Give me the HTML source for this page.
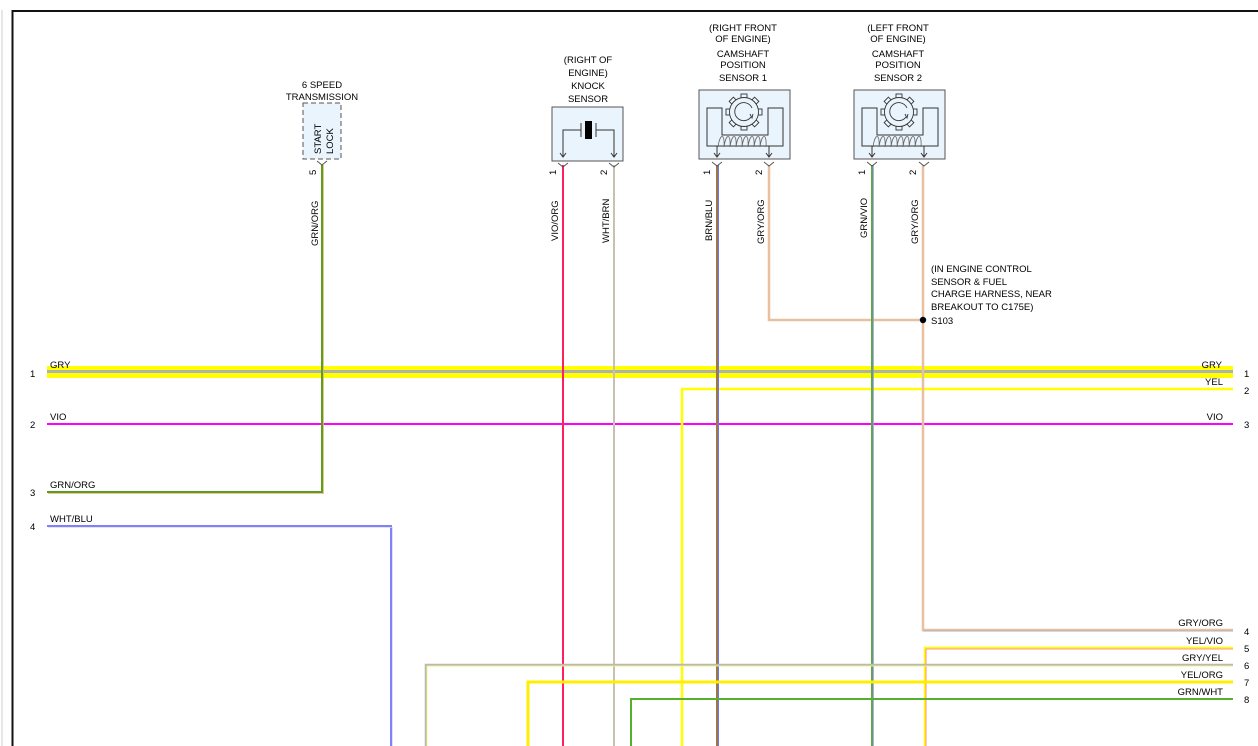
<!DOCTYPE html>
<html><head><meta charset="utf-8"><style>
html,body{margin:0;padding:0;background:#fff;}
svg{display:block;font-family:"Liberation Sans",Arial,sans-serif;}
</style></head><body>
<svg width="1258" height="746" viewBox="0 0 1258 746" xmlns="http://www.w3.org/2000/svg" font-size="10" fill="#000">
<rect width="1258" height="746" fill="#fff"/>
<line x1="2" y1="10" x2="2" y2="746" stroke="#ccc" stroke-width="1"/>
<path d="M12.5 746 V11 H1258" fill="none" stroke="#111" stroke-width="2"/>

<rect x="47" y="366" width="1186" height="12" fill="#ffff00"/>
<rect x="47" y="370" width="1186" height="3" fill="#b0b0b0"/>
<line x1="47" y1="424" x2="1233" y2="424" stroke="#ff00ff" stroke-width="2"/>
<path d="M682 746 V389 H1233" fill="none" stroke="#ffff00" stroke-width="2.5"/>
<path d="M47 492 H322 V165" fill="none" stroke="#55a020" stroke-width="2"/>
<path d="M48 493.5 H323.5 V165" fill="none" stroke="#f0b070" stroke-width="0.8"/>
<path d="M47 526 H391 V746" fill="none" stroke="#8080ff" stroke-width="2"/>
<path d="M48 527.5 H392.5 V746" fill="none" stroke="#ddd" stroke-width="0.8"/>
<line x1="563" y1="165" x2="563" y2="746" stroke="#ff2060" stroke-width="2"/>
<line x1="614" y1="165" x2="614" y2="746" stroke="#c8c0b0" stroke-width="2"/>
<line x1="717" y1="165" x2="717" y2="746" stroke="#9a7a40" stroke-width="2"/>
<line x1="718.5" y1="165" x2="718.5" y2="746" stroke="#7070ff" stroke-width="1"/>
<path d="M769 165 V320 H923" fill="none" stroke="#e8c0a0" stroke-width="2.5"/>
<line x1="872" y1="165" x2="872" y2="746" stroke="#50b040" stroke-width="2"/>
<line x1="873.5" y1="165" x2="873.5" y2="746" stroke="#c080ff" stroke-width="0.8"/>
<path d="M923 165 V630 H1233" fill="none" stroke="#e8c0a0" stroke-width="2.5"/>
<line x1="923" y1="631" x2="1233" y2="631" stroke="#b0b0b0" stroke-width="1"/>
<circle cx="923" cy="320" r="3.2" fill="#000"/>
<path d="M925 746 V648 H1233" fill="none" stroke="#ffff00" stroke-width="2.5"/>
<path d="M926 746 V649 H1233" fill="none" stroke="#ff70b0" stroke-width="0.8"/>
<path d="M426 746 V665 H1233" fill="none" stroke="#b8b8b8" stroke-width="2.5"/>
<path d="M427 746 V666 H1233" fill="none" stroke="#ffff60" stroke-width="0.8"/>
<path d="M528 746 V682 H1233" fill="none" stroke="#ffee00" stroke-width="3"/>
<path d="M631 746 V699 H1233" fill="none" stroke="#55b030" stroke-width="2"/>

<g font-size="9.5">
<text x="50" y="368">GRY</text><text x="1222" y="368" text-anchor="end">GRY</text>
<text x="1223" y="385" text-anchor="end">YEL</text>
<text x="50" y="420">VIO</text><text x="1223" y="420" text-anchor="end">VIO</text>
<text x="50" y="488">GRN/ORG</text>
<text x="50" y="522">WHT/BLU</text>
<text x="1223" y="626" text-anchor="end">GRY/ORG</text>
<text x="1223" y="644" text-anchor="end">YEL/VIO</text>
<text x="1223" y="661" text-anchor="end">GRY/YEL</text>
<text x="1223" y="678" text-anchor="end">YEL/ORG</text>
<text x="1223" y="695" text-anchor="end">GRN/WHT</text>
</g>
<g font-size="9.5">
<text x="30" y="377">1</text><text x="30" y="428">2</text><text x="30" y="496">3</text><text x="30" y="530">4</text>
<text x="1244" y="377">1</text><text x="1244" y="394">2</text><text x="1244" y="428">3</text>
<text x="1244" y="635">4</text><text x="1244" y="652">5</text><text x="1244" y="669">6</text><text x="1244" y="686">7</text><text x="1244" y="703">8</text>
</g>
<g font-size="9.5">
<text transform="translate(318,246) rotate(-90)">GRN/ORG</text>
<text transform="translate(558,241) rotate(-90)">VIO/ORG</text>
<text transform="translate(609,243) rotate(-90)">WHT/BRN</text>
<text transform="translate(712,241) rotate(-90)">BRN/BLU</text>
<text transform="translate(764,244) rotate(-90)">GRY/ORG</text>
<text transform="translate(867,238) rotate(-90)">GRN/VIO</text>
<text transform="translate(918,244) rotate(-90)">GRY/ORG</text>
<text transform="translate(316,175) rotate(-90)">5</text>
<text transform="translate(556,175) rotate(-90)">1</text>
<text transform="translate(607,175) rotate(-90)">2</text>
<text transform="translate(710,175) rotate(-90)">1</text>
<text transform="translate(762,175) rotate(-90)">2</text>
<text transform="translate(865,175) rotate(-90)">1</text>
<text transform="translate(916,175) rotate(-90)">2</text>
</g>
<g font-size="9.5">
<text x="931" y="272">(IN ENGINE CONTROL</text>
<text x="931" y="285">SENSOR &amp; FUEL</text>
<text x="931" y="297">CHARGE HARNESS, NEAR</text>
<text x="931" y="310">BREAKOUT TO C175E)</text>
<text x="931" y="324">S103</text>
</g>

<g font-size="9.5" text-anchor="middle">
<text x="322" y="88">6 SPEED</text><text x="322" y="100">TRANSMISSION</text>
</g>
<rect x="303" y="103" width="38" height="56" fill="#eaf4fc" stroke="#555" stroke-dasharray="5,3"/>
<text transform="translate(321,154) rotate(-90)" font-size="9.5">START</text>
<text transform="translate(333,154) rotate(-90)" font-size="9.5">LOCK</text>
<path d="M317 161 l5 4 l5 -4" fill="none" stroke="#555"/>

<g font-size="9.5" text-anchor="middle">
<text x="588" y="63">(RIGHT OF</text><text x="588" y="76">ENGINE)</text><text x="588" y="89">KNOCK</text><text x="588" y="102">SENSOR</text>
</g>
<rect x="552" y="107" width="71" height="54" fill="#eaf4fc" stroke="#555"/>
<rect x="585" y="121" width="7" height="18" fill="#000"/>
<path d="M581 123 V137 M596 123 V137 M581 130 H563 V157 M596 130 H614 V157" fill="none" stroke="#333"/>
<path d="M560 153 l3 4 l3 -4 M611 153 l3 4 l3 -4" fill="none" stroke="#333"/>
<path d="M558 163 l5 4 l5 -4 M609 163 l5 4 l5 -4" fill="none" stroke="#555"/>

<g font-size="9.5" text-anchor="middle">
<text x="743" y="31">(RIGHT FRONT</text><text x="743" y="42">OF ENGINE)</text><text x="743" y="57">CAMSHAFT</text><text x="743" y="68">POSITION</text><text x="743" y="81">SENSOR 1</text>
<text x="898" y="31">(LEFT FRONT</text><text x="898" y="42">OF ENGINE)</text><text x="898" y="57">CAMSHAFT</text><text x="898" y="68">POSITION</text><text x="898" y="81">SENSOR 2</text>
</g>
<g>
<rect x="699" y="90" width="91" height="69" fill="#eaf4fc" stroke="#555"/>
<path d="M722 108 H707 V146 H783 V108 H768 V135 H722 Z" fill="none" stroke="#333"/>
<g fill="#eaf4fc" stroke="#333" stroke-width="0.9">
<rect x="741" y="94" width="6" height="4" transform="rotate(0 744 112)"/>
<rect x="741" y="94" width="6" height="4" transform="rotate(45 744 112)"/>
<rect x="741" y="94" width="6" height="4" transform="rotate(90 744 112)"/>
<rect x="741" y="94" width="6" height="4" transform="rotate(135 744 112)"/>
<rect x="741" y="94" width="6" height="4" transform="rotate(180 744 112)"/>
<rect x="741" y="94" width="6" height="4" transform="rotate(225 744 112)"/>
<rect x="741" y="94" width="6" height="4" transform="rotate(270 744 112)"/>
<rect x="741" y="94" width="6" height="4" transform="rotate(315 744 112)"/>
<circle cx="744" cy="112" r="14.5"/>
</g>
<path d="M751 117 A9 9 0 1 1 752 108" fill="none" stroke="#333" stroke-width="0.9"/>
<path d="M750 114 l2 4 l1 -4" fill="none" stroke="#333" stroke-width="0.9"/>
<path d="M718 147 c2 -14 7 -14 6 0 c2 -14 7 -14 6 0 c2 -14 7 -14 6 0 c2 -14 7 -14 6 0 c2 -14 7 -14 6 0 c2 -14 7 -14 6 0 c2 -14 7 -14 6 0 c2 -14 7 -14 6 0" fill="none" stroke="#666" stroke-width="0.8"/>
<path d="M717 146 V157 M769 146 V157 M714 153 l3 4 l3 -4 M766 153 l3 4 l3 -4" fill="none" stroke="#333"/>
<path d="M712 162 l5 4 l5 -4 M764 162 l5 4 l5 -4" fill="none" stroke="#555"/>
</g>
<g transform="translate(155,0)">
<rect x="699" y="90" width="91" height="69" fill="#eaf4fc" stroke="#555"/>
<path d="M722 108 H707 V146 H783 V108 H768 V135 H722 Z" fill="none" stroke="#333"/>
<g fill="#eaf4fc" stroke="#333" stroke-width="0.9">
<rect x="741" y="94" width="6" height="4" transform="rotate(0 744 112)"/>
<rect x="741" y="94" width="6" height="4" transform="rotate(45 744 112)"/>
<rect x="741" y="94" width="6" height="4" transform="rotate(90 744 112)"/>
<rect x="741" y="94" width="6" height="4" transform="rotate(135 744 112)"/>
<rect x="741" y="94" width="6" height="4" transform="rotate(180 744 112)"/>
<rect x="741" y="94" width="6" height="4" transform="rotate(225 744 112)"/>
<rect x="741" y="94" width="6" height="4" transform="rotate(270 744 112)"/>
<rect x="741" y="94" width="6" height="4" transform="rotate(315 744 112)"/>
<circle cx="744" cy="112" r="14.5"/>
</g>
<path d="M751 117 A9 9 0 1 1 752 108" fill="none" stroke="#333" stroke-width="0.9"/>
<path d="M750 114 l2 4 l1 -4" fill="none" stroke="#333" stroke-width="0.9"/>
<path d="M718 147 c2 -14 7 -14 6 0 c2 -14 7 -14 6 0 c2 -14 7 -14 6 0 c2 -14 7 -14 6 0 c2 -14 7 -14 6 0 c2 -14 7 -14 6 0 c2 -14 7 -14 6 0 c2 -14 7 -14 6 0" fill="none" stroke="#666" stroke-width="0.8"/>
<path d="M717 146 V157 M769 146 V157 M714 153 l3 4 l3 -4 M766 153 l3 4 l3 -4" fill="none" stroke="#333"/>
<path d="M712 162 l5 4 l5 -4 M764 162 l5 4 l5 -4" fill="none" stroke="#555"/>
</g>
</svg>
</body></html>
